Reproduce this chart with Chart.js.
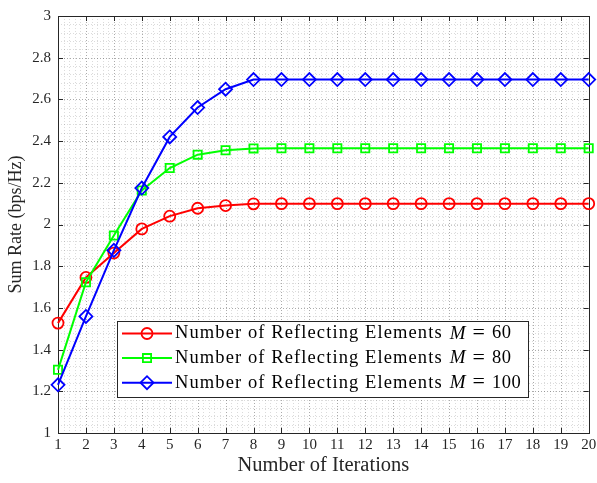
<!DOCTYPE html>
<html>
<head>
<meta charset="utf-8">
<script src="https://cdn.jsdelivr.net/npm/chart.js@4.4.1/dist/chart.umd.min.js"></script>
<style>
  html, body { margin: 0; padding: 0; background: #fff; }
  #wrap { width: 597px; height: 483px; }
</style>
</head>
<body>
<div id="wrap"><canvas id="chart"></canvas></div>
<script>
// data
const iterations = [1, 2, 3, 4, 5, 6, 7, 8, 9, 10, 11, 12, 13, 14, 15, 16, 17, 18, 19, 20];
const rateM60 = [1.527, 1.746, 1.863, 1.979, 2.040, 2.078, 2.091, 2.099, 2.1, 2.1, 2.1, 2.1, 2.1, 2.1, 2.1, 2.1, 2.1, 2.1, 2.1, 2.1];
const rateM80 = [1.303, 1.723, 1.947, 2.163, 2.271, 2.335, 2.356, 2.365, 2.366, 2.366, 2.366, 2.366, 2.366, 2.366, 2.366, 2.366, 2.366, 2.366, 2.366, 2.366];
const rateM100 = [1.231, 1.559, 1.876, 2.175, 2.420, 2.561, 2.649, 2.695, 2.695, 2.695, 2.695, 2.695, 2.695, 2.695, 2.695, 2.695, 2.695, 2.695, 2.695, 2.695];
const elementCounts = [60, 80, 100];
const legendPrefix = "Number of Reflecting Elements";

const SERIF = '"Liberation Serif", "Times New Roman", serif';
const AXIS_COLOR = "#262626";
const X_MINOR = 0.2;
const Y_MINOR = 0.04;

const toPoints = (values) => iterations.map((it, i) => ({ x: it, y: values[i] }));

const makeSeries = (values, color, style, radius, order) => ({
  data: toPoints(values),
  borderColor: color,
  borderWidth: 2,
  pointStyle: style,
  pointRadius: radius,
  pointHoverRadius: radius,
  pointBorderColor: color,
  pointBackgroundColor: "rgba(0,0,0,0)",
  pointBorderWidth: 1.8,
  tension: 0,
  clip: false,
  order: order,
});

// grid, box and inward ticks, drawn under the lines like MATLAB
const frameAndGrid = {
  id: "frameAndGrid",
  beforeDatasetsDraw(chart) {
    const { ctx, chartArea: a } = chart;
    const x = chart.scales.x;
    const y = chart.scales.y;
    ctx.save();
    ctx.lineWidth = 1;
    ctx.setLineDash([1, 2]);

    ctx.strokeStyle = "rgba(0,0,0,0.14)";
    ctx.beginPath();
    for (let v = x.min; v <= x.max + 1e-9; v += X_MINOR) {
      const px = Math.round(x.getPixelForValue(v)) + 0.5;
      ctx.moveTo(px, a.top);
      ctx.lineTo(px, a.bottom);
    }
    for (let v = y.min; v <= y.max + 1e-9; v += Y_MINOR) {
      const py = Math.round(y.getPixelForValue(v)) + 0.5;
      ctx.moveTo(a.left, py);
      ctx.lineTo(a.right, py);
    }
    ctx.stroke();

    ctx.strokeStyle = "rgba(0,0,0,0.22)";
    ctx.beginPath();
    x.ticks.forEach((t) => {
      const px = Math.round(x.getPixelForValue(t.value)) + 0.5;
      ctx.moveTo(px, a.top);
      ctx.lineTo(px, a.bottom);
    });
    y.ticks.forEach((t) => {
      const py = Math.round(y.getPixelForValue(t.value)) + 0.5;
      ctx.moveTo(a.left, py);
      ctx.lineTo(a.right, py);
    });
    ctx.stroke();

    ctx.setLineDash([]);
    ctx.strokeStyle = AXIS_COLOR;
    ctx.lineWidth = 1;
    const tl = 5;
    ctx.beginPath();
    x.ticks.forEach((t) => {
      const px = Math.round(x.getPixelForValue(t.value)) + 0.5;
      ctx.moveTo(px, a.bottom);
      ctx.lineTo(px, a.bottom - tl);
      ctx.moveTo(px, a.top);
      ctx.lineTo(px, a.top + tl);
    });
    y.ticks.forEach((t) => {
      const py = Math.round(y.getPixelForValue(t.value)) + 0.5;
      ctx.moveTo(a.left, py);
      ctx.lineTo(a.left + tl, py);
      ctx.moveTo(a.right, py);
      ctx.lineTo(a.right - tl, py);
    });
    ctx.stroke();
    ctx.strokeRect(Math.round(a.left) + 0.5, Math.round(a.top) + 0.5, Math.round(a.right - a.left), Math.round(a.bottom - a.top));
    ctx.restore();
  },
};

// MATLAB style legend box with italic M
const matlabLegend = {
  id: "matlabLegend",
  afterDraw(chart) {
    const { ctx } = chart;
    const box = { left: 117.5, top: 321.5, width: 411, height: 76 };
    ctx.save();
    ctx.fillStyle = "#fff";
    ctx.fillRect(box.left, box.top, box.width, box.height);
    ctx.strokeStyle = AXIS_COLOR;
    ctx.lineWidth = 1;
    ctx.strokeRect(box.left, box.top, box.width, box.height);

    chart.data.datasets.forEach((ds, i) => {
      const rowY = box.top + 12 + i * 24.6;
      ctx.strokeStyle = ds.borderColor;
      ctx.lineWidth = ds.borderWidth;
      ctx.beginPath();
      ctx.moveTo(122, rowY);
      ctx.lineTo(172, rowY);
      ctx.stroke();
      ctx.fillStyle = "rgba(0,0,0,0)";
      ctx.lineWidth = ds.pointBorderWidth;
      Chart.helpers.drawPoint(ctx, { pointStyle: ds.pointStyle, radius: ds.pointRadius, rotation: 0, borderWidth: ds.pointBorderWidth }, 147, rowY);

      ctx.fillStyle = "#000";
      ctx.textBaseline = "middle";
      ctx.textAlign = "left";
      ctx.letterSpacing = "1.1px";
      ctx.font = "18.5px " + SERIF;
      ctx.fillText(legendPrefix, 175, rowY);
      let tx = 175 + ctx.measureText(legendPrefix).width + 7;
      ctx.letterSpacing = "0px";
      ctx.font = "italic 19px " + SERIF;
      ctx.fillText("M", tx, rowY);
      tx += ctx.measureText("M").width + 7;
      ctx.font = "22px " + SERIF;
      ctx.fillText("=", tx, rowY);
      tx += ctx.measureText("=").width + 7;
      ctx.font = "18.5px " + SERIF;
      ctx.letterSpacing = "0.5px";
      ctx.fillText(String(elementCounts[i]), tx, rowY);
    });
    ctx.restore();
  },
};

new Chart(document.getElementById("chart"), {
  type: "line",
  data: {
    datasets: [
      makeSeries(rateM60, "#ff0000", "circle", 5.5, 2),
      makeSeries(rateM80, "#00ff00", "rect", 5.8, 1),
      makeSeries(rateM100, "#0000ff", "rectRot", 6.5, 0),
    ],
  },
  options: {
    responsive: true,
    maintainAspectRatio: false,
    animation: false,
    events: [],
    layout: { padding: { left: 0, right: 7, top: 14, bottom: 0 } },
    plugins: {
      legend: { display: false },
      tooltip: { enabled: false },
    },
    scales: {
      x: {
        type: "linear",
        min: 1,
        max: 20,
        afterFit: (scale) => {
          scale.height = 50;
          scale.paddingLeft = 0;
          scale.paddingRight = 0;
        },
        grid: { display: false, drawTicks: false },
        border: { display: false },
        ticks: {
          stepSize: 1,
          padding: 3,
          color: "#262626",
          font: { family: SERIF, size: 15 },
          maxRotation: 0,
        },
        title: {
          display: true,
          text: "Number of Iterations",
          color: "#262626",
          font: { family: SERIF, size: 20.5 },
          padding: { top: 0, bottom: 5 },
        },
      },
      y: {
        min: 1,
        max: 3,
        afterFit: (scale) => { scale.width = 58; },
        grid: { display: false, drawTicks: false },
        border: { display: false },
        ticks: {
          stepSize: 0.2,
          padding: 7,
          color: "#262626",
          font: { family: SERIF, size: 15 },
          callback: (value) => String(Number(value.toFixed(1))),
        },
        title: {
          display: true,
          text: "Sum Rate (bps/Hz)",
          color: "#262626",
          font: { family: SERIF, size: 18 },
          padding: { top: 5, bottom: 0 },
        },
      },
    },
  },
  plugins: [frameAndGrid, matlabLegend],
});
</script>
</body>
</html>
